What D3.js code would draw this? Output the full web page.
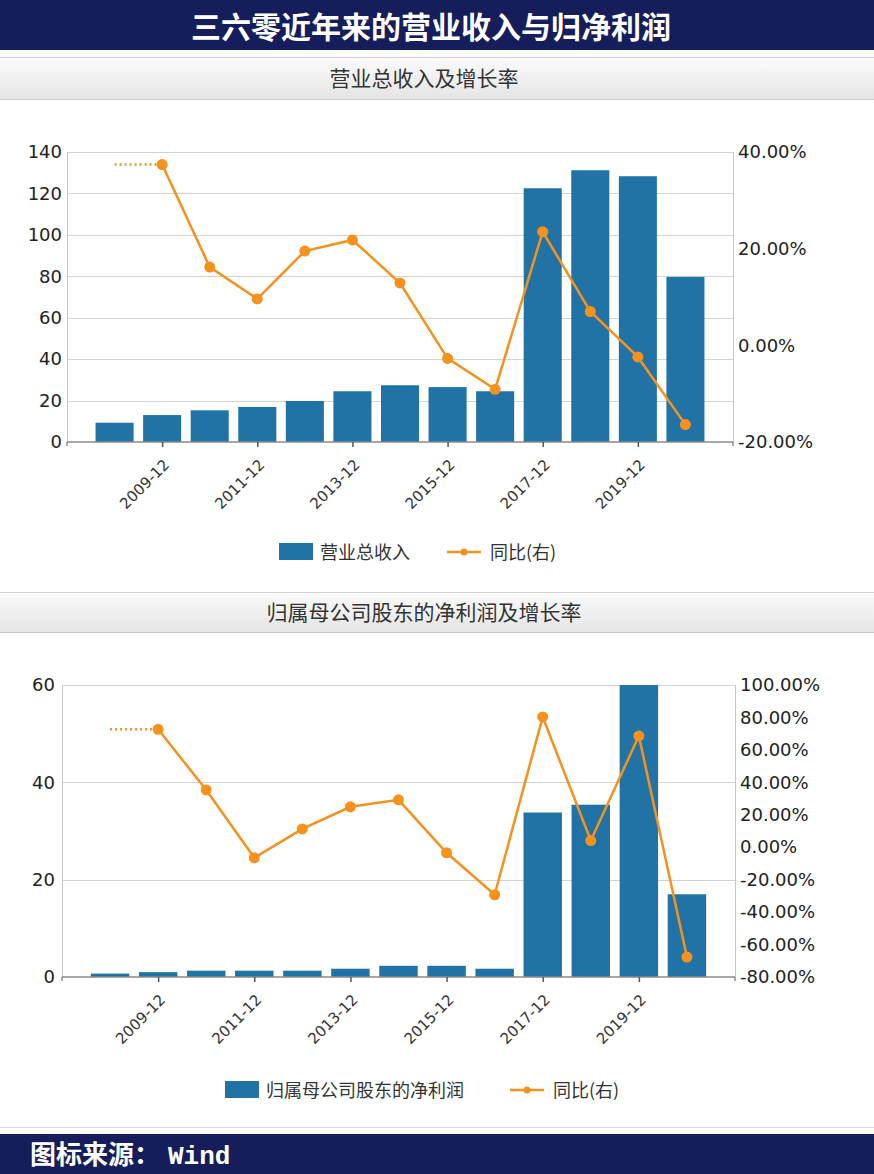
<!DOCTYPE html>
<html><head><meta charset="utf-8">
<script src="https://cdn.jsdelivr.net/npm/d3@7"></script>
<style>
body{margin:0;background:#fff;}
svg{display:block;}
</style></head>
<body>
<script>
const categories = ["2008-12","2009-12","2010-12","2011-12","2012-12","2013-12","2014-12","2015-12","2016-12","2017-12","2018-12","2019-12","2020-12"];
const tickLabels = ["2009-12","2011-12","2013-12","2015-12","2017-12","2019-12"];
const revenue = [9.3, 13.0, 15.3, 16.9, 19.8, 24.5, 27.4, 26.5, 24.5, 122.5, 131.2, 128.3, 79.7];
const revenueGrowth = [null, 37.4, 16.2, 9.6, 19.5, 21.8, 12.9, -2.7, -9.1, 23.5, 7.0, -2.4, -16.4];
const netProfit = [0.7, 1.0, 1.3, 1.3, 1.3, 1.7, 2.3, 2.3, 1.7, 33.8, 35.4, 60.0, 17.0];
const profitGrowth = [null, 72.7, 35.3, -6.5, 11.3, 24.9, 29.2, -3.4, -29.3, 80.3, 4.1, 68.6, -67.7];
const leftTicks1 = [0,20,40,60,80,100,120,140];
const rightTicks1 = [-20,0,20,40];
const leftTicks2 = [0,20,40,60];
const rightTicks2 = [-80,-60,-40,-20,0,20,40,60,80,100];

const W = 874, H = 1174;
const BAR = "#2173a6", ORANGE = "#f5921e";
const svg = d3.select("body").append("svg").attr("width", W).attr("height", H);
const defs = svg.append("defs");
const g1 = defs.append("linearGradient").attr("id","subg").attr("x1",0).attr("y1",0).attr("x2",0).attr("y2",1);
g1.append("stop").attr("offset","0%").attr("stop-color","#fbfbfb");
g1.append("stop").attr("offset","100%").attr("stop-color","#e4e4e4");

// Title bar
svg.append("rect").attr("x",0).attr("y",0).attr("width",W).attr("height",50).attr("fill","#161d5b");
svg.append("text").attr("x",431).attr("y",38).attr("text-anchor","middle")
  .attr("font-family","'Noto Sans CJK SC'").attr("font-weight","bold").attr("font-size",30).attr("fill","#fff")
  .text("三六零近年来的营业收入与归净利润");

// Footer
svg.append("line").attr("x1",0).attr("x2",W).attr("y1",1127.5).attr("y2",1127.5).attr("stroke","#e3d6d6");
svg.append("rect").attr("x",0).attr("y",1134).attr("width",W).attr("height",40).attr("fill","#161d5b");
const ft = svg.append("text").attr("x",30).attr("y",1164).attr("font-weight","bold").attr("font-size",26).attr("fill","#fff");
ft.append("tspan").attr("font-family","'Noto Sans CJK SC'").text("图标来源：");
ft.append("tspan").attr("font-family","'Liberation Mono','DejaVu Sans Mono'").attr("dx",8).text("Wind");

function subtitle(y0, h, txt){
  svg.append("rect").attr("x",0).attr("y",y0).attr("width",W).attr("height",h).attr("fill","url(#subg)");
  svg.append("line").attr("x1",0).attr("x2",W).attr("y1",y0+0.5).attr("y2",y0+0.5).attr("stroke","#d4d4d4");
  svg.append("line").attr("x1",0).attr("x2",W).attr("y1",y0+h-0.5).attr("y2",y0+h-0.5).attr("stroke","#c9c9c9");
  svg.append("text").attr("x",424).attr("y",y0+h/2+7).attr("text-anchor","middle")
    .attr("font-family","'Noto Sans CJK SC'").attr("font-size",21).attr("fill","#333").text(txt);
}
subtitle(57, 43, "营业总收入及增长率");
subtitle(592, 41, "归属母公司股东的净利润及增长率");

function chart(o){
  const step = (o.R - o.L)/14;
  const x = d3.scalePoint().domain(categories).range([o.L + step, o.R - step]);
  const y = d3.scaleLinear().domain([0, o.leftMax]).range([o.B, o.T]);
  const yr = d3.scaleLinear().domain(o.rdom).range([o.B, o.T]);
  const g = svg.append("g");
  // grid
  g.selectAll(".grid").data(o.leftTicks.filter(d=>d>0)).join("line")
    .attr("x1",o.L).attr("x2",o.R).attr("y1",d=>Math.round(y(d))+0.5).attr("y2",d=>Math.round(y(d))+0.5)
    .attr("stroke","#d3d3d3").attr("stroke-width",1);
  g.append("line").attr("x1",o.L+0.5).attr("x2",o.L+0.5).attr("y1",o.T).attr("y2",o.B).attr("stroke","#c6c6c6");
  g.append("line").attr("x1",o.R+0.5).attr("x2",o.R+0.5).attr("y1",o.T).attr("y2",o.B).attr("stroke","#c6c6c6");
  // bars
  const bw = step*0.8;
  g.selectAll(".bar").data(o.bars).join("rect")
    .attr("x",(d,i)=>x(categories[i]) - bw/2).attr("width",bw)
    .attr("y",d=>y(d)).attr("height",d=>o.B - y(d)).attr("fill",BAR);
  // left axis
  const la = g.append("g").attr("transform",`translate(${o.L},0)`)
    .call(d3.axisLeft(y).tickValues(o.leftTicks).tickSize(0).tickPadding(o.lpad).tickFormat(d3.format("d")));
  la.select(".domain").remove();
  la.selectAll("text").attr("font-family","'DejaVu Sans'").attr("font-size",18).attr("fill","#222");
  // right axis
  const ra = g.append("g").attr("transform",`translate(${o.R},0)`)
    .call(d3.axisRight(yr).tickValues(o.rightTicks).tickSize(0).tickPadding(5).tickFormat(d=>d.toFixed(2)+"%"));
  ra.select(".domain").remove();
  ra.selectAll("text").attr("font-family","'DejaVu Sans'").attr("font-size",18).attr("fill","#222");
  // bottom axis
  const ba = g.append("g").attr("transform",`translate(0,${o.B})`)
    .call(d3.axisBottom(x).tickValues(tickLabels).tickSize(5).tickSizeOuter(0));
  ba.select(".domain").attr("d",`M${o.L},0H${o.R}`).attr("stroke","#8a8a8a").attr("stroke-width",1.5);
  ba.selectAll(".tick line").attr("stroke","#555").attr("stroke-width",1.5);
  ba.selectAll("text").attr("font-family","'DejaVu Sans'").attr("font-size",15).attr("fill","#333")
    .attr("text-anchor","end").attr("x",0).attr("y",0).attr("dy","0.35em")
    .attr("transform","translate(4,20) rotate(-45)");
  ba.append("line").attr("x1",o.L).attr("x2",o.L).attr("y1",0).attr("y2",4).attr("stroke","#555");
  ba.append("line").attr("x1",o.R).attr("x2",o.R).attr("y1",0).attr("y2",4).attr("stroke","#555");
  // growth line
  const pts = o.growth.map((v,i)=>({c:categories[i], v})).filter(d=>d.v!==null);
  const first = pts[0];
  g.append("line").attr("x1",x(categories[0])).attr("x2",x(first.c)).attr("y1",yr(first.v)).attr("y2",yr(first.v))
    .attr("stroke",ORANGE).attr("stroke-width",2.5).attr("stroke-dasharray","2,3");
  g.append("path").datum(pts).attr("fill","none").attr("stroke",ORANGE).attr("stroke-width",2.5)
    .attr("d",d3.line().x(d=>x(d.c)).y(d=>yr(d.v)));
  g.selectAll(".dot").data(pts).join("circle").attr("cx",d=>x(d.c)).attr("cy",d=>yr(d.v)).attr("r",5.5).attr("fill",ORANGE);
  // legend
  const lg = g.append("g");
  lg.append("rect").attr("x",o.lx).attr("y",o.ly-9).attr("width",34).attr("height",17).attr("fill",BAR);
  lg.append("text").attr("x",o.lx+41).attr("y",o.ly+7).attr("font-family","'Noto Sans CJK SC'").attr("font-size",18).attr("fill","#333").text(o.lname);
  lg.append("line").attr("x1",o.lx2).attr("x2",o.lx2+34).attr("y1",o.ly).attr("y2",o.ly).attr("stroke",ORANGE).attr("stroke-width",2.5);
  lg.append("circle").attr("cx",o.lx2+17).attr("cy",o.ly).attr("r",3.5).attr("fill",ORANGE);
  lg.append("text").attr("x",o.lx2+43).attr("y",o.ly+7).attr("font-family","'Noto Sans CJK SC'").attr("font-size",18).attr("fill","#333").text("同比(右)");
}

chart({L:67, R:733, T:152, B:442, leftMax:140, rdom:[-20,40], leftTicks:leftTicks1, rightTicks:rightTicks1,
  bars:revenue, growth:revenueGrowth, lpad:5, lx:279, lx2:447, ly:552, lname:"营业总收入"});
chart({L:62, R:735, T:685, B:977, leftMax:60, rdom:[-80,100], leftTicks:leftTicks2, rightTicks:rightTicks2,
  bars:netProfit, growth:profitGrowth, lpad:7, lx:225, lx2:510, ly:1090, lname:"归属母公司股东的净利润"});
</script>
</body></html>
